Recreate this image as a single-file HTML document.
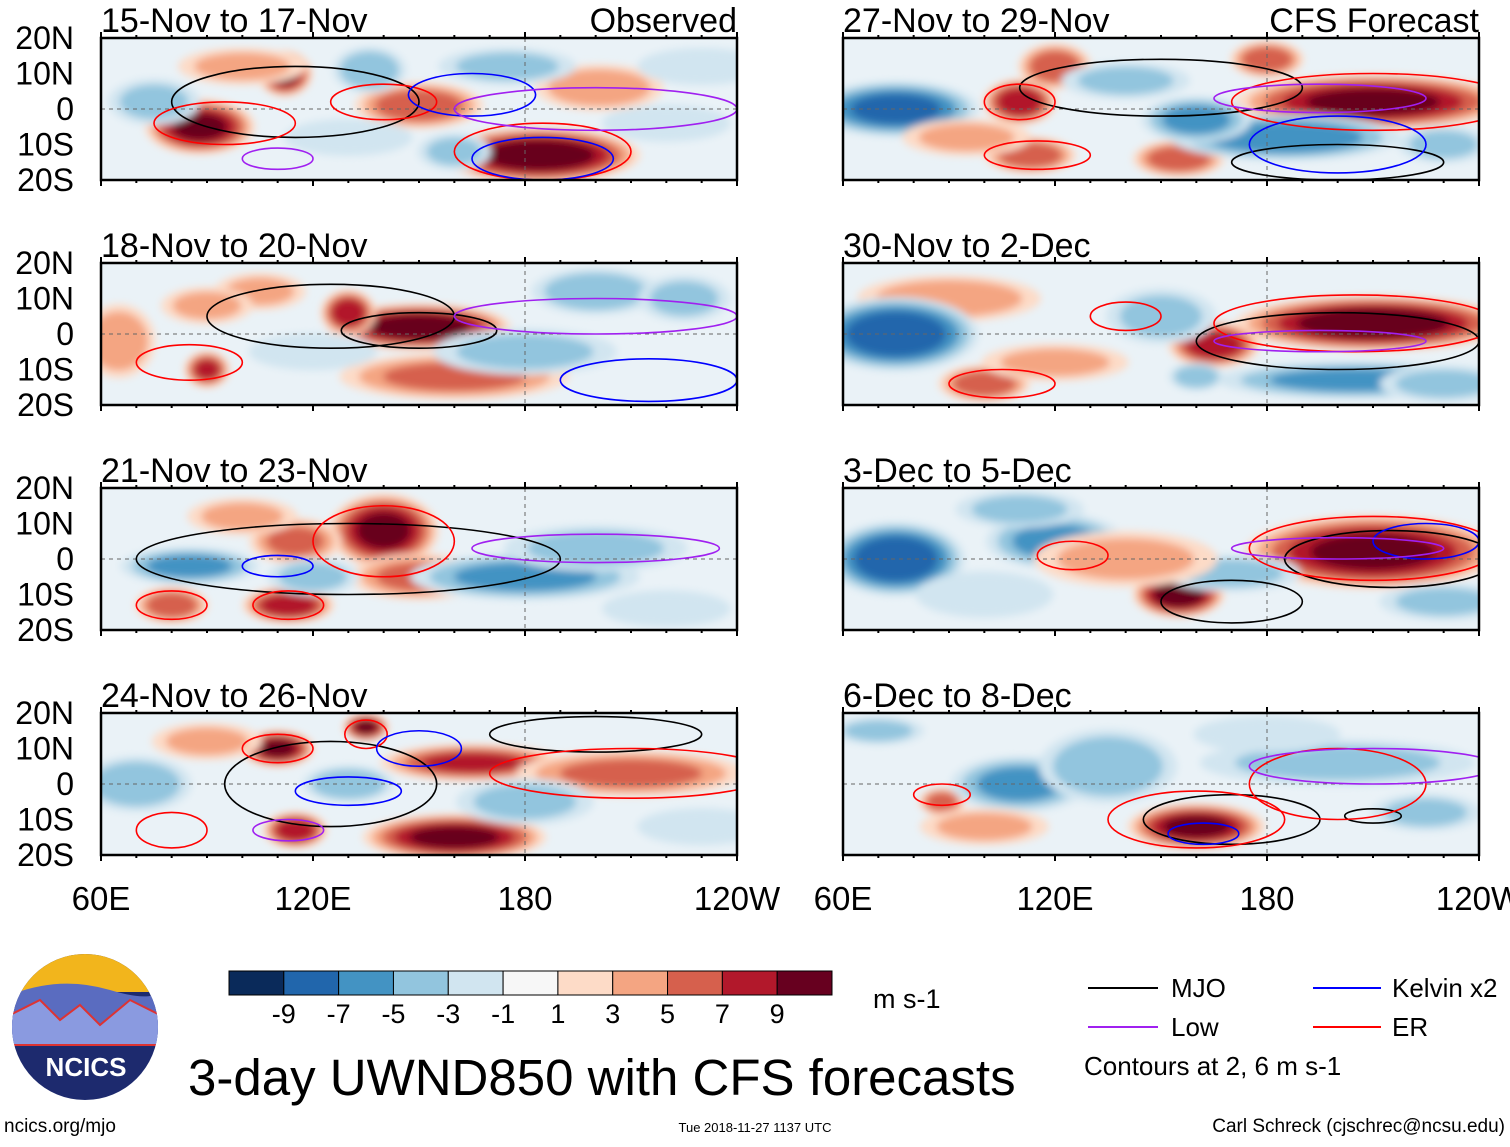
<!DOCTYPE html>
<html><head><meta charset="utf-8"><style>
body{margin:0;background:#fff;font-family:"Liberation Sans",sans-serif}
</style></head><body>
<svg id="fig" width="1510" height="1142" viewBox="0 0 1510 1142" xmlns="http://www.w3.org/2000/svg" font-family="Liberation Sans, sans-serif">
<defs><filter id="bl" x="-50%" y="-50%" width="200%" height="200%"><feGaussianBlur stdDeviation="4"/></filter></defs>
<g id="panels"></g>
<g>
  <g>
    <clipPath id="lc"><circle cx="85" cy="1027" r="73"/></clipPath>
    <g clip-path="url(#lc)">
      <rect x="10" y="952" width="150" height="150" fill="#1d2a6e"/>
      <rect x="10" y="952" width="150" height="40" fill="#f2b51c"/>
      <path d="M10 995 Q60 975 110 990 T160 985 L160 1040 L10 1040Z" fill="#5a6cc0"/>
      <path d="M10 1015 L40 1000 L60 1020 L80 1005 L100 1025 L130 1000 L160 1015 L160 1045 L10 1045Z" fill="#8a9ae0" stroke="#d33" stroke-width="2"/>
    </g>
    <text x="86" y="1076" font-size="26" font-weight="bold" fill="#fff" text-anchor="middle">NCICS</text>
  </g>
  <g id="cbar"></g>
  <text x="873" y="1008" font-size="27">m s-1</text>
  <text x="188" y="1095" font-size="51">3-day UWND850 with CFS forecasts</text>
  <g font-size="26">
    <line x1="1088" y1="988" x2="1158" y2="988" stroke="#000" stroke-width="2"/><text x="1171" y="997">MJO</text>
    <line x1="1313" y1="988" x2="1381" y2="988" stroke="#00f" stroke-width="2"/><text x="1392" y="997">Kelvin x2</text>
    <line x1="1088" y1="1027" x2="1158" y2="1027" stroke="#a020f0" stroke-width="2"/><text x="1171" y="1036">Low</text>
    <line x1="1313" y1="1027" x2="1381" y2="1027" stroke="#f00" stroke-width="2"/><text x="1392" y="1036">ER</text>
    <text x="1084" y="1075">Contours at 2, 6 m s-1</text>
  </g>
  <text x="4" y="1132" font-size="19">ncics.org/mjo</text>
  <text x="755" y="1132" font-size="13" text-anchor="middle">Tue 2018-11-27 1137 UTC</text>
  <text x="1505" y="1132" font-size="19" text-anchor="end">Carl Schreck (cjschrec@ncsu.edu)</text>
</g>
</svg>
<script>
const panelTitles=["15-Nov to 17-Nov","18-Nov to 20-Nov","21-Nov to 23-Nov","24-Nov to 26-Nov","27-Nov to 29-Nov","30-Nov to 2-Dec","3-Dec to 5-Dec","6-Dec to 8-Dec"];
const latTicks=[20,10,0,-10,-20];
const latLabels=["20N","10N","0","10S","20S"];
const lonTicks=[60,120,180,240];
const lonLabels=["60E","120E","180","120W"];
const cbarLevels=[-9,-7,-5,-3,-1,1,3,5,7,9];
const cbarColors=["#0a2a5a","#2166ac","#4393c3","#92c5de","#d1e5f0","#f7f7f7","#fddbc7","#f4a582","#d6604d","#b2182b","#67001f"];
// blobs per panel: lon, lat, value (m/s), width(deg), height(deg)
const blobLon=[[88,112,150,184,201,175,136,75,220,160,100,130,230],[150,130,90,160,65,200,105,180,225,120,90],[140,115,80,113,150,85,180,200,120,220,100],[110,135,160,165,210,115,70,130,180,90,230],[210,110,120,180,113,155,75,185,160,230,95,140],[210,165,100,90,75,205,150,160,120,230],[210,155,75,120,170,100,140,230,110],[160,88,110,135,200,70,225,100,180]];
const blobLat=[[-5,10,1,-13,6,12,11,2,-4,-12,12,-8,12],[2,6,-10,-12,-2,12,12,-5,10,-5,8],[8,5,-13,-13,-5,-2,-5,3,-5,-14,12],[10,16,-15,6,3,-13,0,0,-5,12,-12],[2,2,12,14,-13,-14,0,-8,-3,-10,-8,8],[3,-3,-14,10,0,-13,5,-12,-8,-14],[2,-10,0,5,-4,-10,0,-12,14],[-12,-5,0,5,6,15,-8,-12,14]];
const blobVal=[[9,9,6,10,4,-3,-4,-3,-2,-3,3,-2,-2],[10,8,7,5,4,-4,3,-3,-3,-2,3],[9,5,6,8,5,-5,-5,-3,-3,-2,3],[9,9,9,7,5,8,-4,-4,-3,3,-2],[9,8,6,6,6,6,-7,-6,-5,-3,3,-3],[10,8,6,4,-8,-5,-3,-4,3,-3],[9,10,-8,-5,-3,-2,3,-3,-3],[9,6,-5,-4,-3,-3,-3,3,-2]];
const blobW=[[12,6,14,22,14,15,8,10,14,8,14,14,14],[20,6,5,25,8,14,10,20,10,14,10],[12,10,8,10,15,15,25,20,10,14,12],[8,5,20,20,25,7,12,10,15,12,14],[30,8,8,8,10,10,18,25,12,10,14,14],[30,10,10,20,18,30,12,6,16,14],[28,10,15,15,15,15,20,14,14],[15,5,15,15,30,10,12,14,16]];
const blobH=[[6,5,5,6,5,4,5,5,4,4,4,4,4],[5,5,4,5,8,5,4,5,5,4,4],[8,5,4,4,5,4,5,5,4,4,4],[4,3,5,4,5,4,6,4,5,4,4],[6,5,5,4,4,4,6,5,5,4,4,4],[6,5,4,5,8,4,6,3,4,4],[8,5,8,6,4,5,6,4,4],[5,3,6,8,5,3,4,4,4]];
// contours per panel: lon, lat, halfwidth, halfheight, type
const cLon=[[115,95,185,140,185,165,200,110],[125,150,200,215,85],[130,140,80,113,200,110],[125,200,110,135,210,80,150,130,113],[150,200,210,115,110,200,195],[200,205,105,140,195],[215,170,210,125,225,200],[170,210,160,200,88,210,162]];
const cLat=[[2,-4,-12,2,-14,4,0,-14],[5,1,5,-13,-8],[0,5,-13,-13,3,-2],[0,14,10,14,3,-13,10,-2,-13],[6,-15,2,-13,2,-10,3],[-2,3,-14,5,-2],[0,-12,3,1,5,3],[-10,-9,-10,0,-3,5,-14]];
const cW=[[35,20,25,15,20,18,40,10],[35,22,40,25,15],[60,20,10,10,35,10],[30,30,10,6,40,10,12,15,10],[40,30,40,15,10,25,30],[40,40,15,10,30],[30,20,35,10,15,30],[25,8,25,25,8,35,10]];
const cH=[[10,6,8,5,6,6,6,3],[9,5,5,6,5],[10,10,4,4,4,3],[12,5,4,4,7,5,5,4,3],[8,5,8,4,5,8,4],[8,8,4,4,3],[8,6,9,4,5,3],[7,2,8,10,3,5,3]];
const cType=[["mjo","er","er","er","kel","kel","low","low"],["mjo","mjo","low","kel","er"],["mjo","er","er","er","low","kel"],["mjo","mjo","er","er","er","er","kel","kel","low"],["mjo","mjo","er","er","er","kel","low"],["mjo","er","er","er","low"],["mjo","mjo","er","er","kel","low"],["mjo","mjo","er","er","er","low","kel"]];
const typeColor={mjo:"#000",er:"#f00",kel:"#00f",low:"#a020f0"};

const NS="http://www.w3.org/2000/svg";
function mk(tag,attrs,parent){const e=document.createElementNS(NS,tag);for(const k in attrs)e.setAttribute(k,attrs[k]);parent.appendChild(e);return e;}
function colorFor(v){let i=0;while(i<cbarLevels.length&&v>cbarLevels[i])i++;return cbarColors[i];}
const PW=636,PH=142,GROW=1.3;
const lefts=[101,843],tops=[38,263,488,713];
const root=document.getElementById('panels');
for(let p=0;p<8;p++){
  const px=lefts[Math.floor(p/4)],py=tops[p%4];
  const xS=lon=>px+(lon-60)*PW/180;
  const yS=lat=>py+(20-lat)*PH/40;
  const g=mk('g',{},root);
  
  
  const cp=mk('clipPath',{id:'cp'+p},g);
  mk('rect',{x:px,y:py,width:PW,height:PH},cp);
  const inner=mk('g',{'clip-path':'url(#cp'+p+')'},g);
  mk('rect',{x:px,y:py,width:PW,height:PH,fill:'#eaf2f7'},inner);
  const bg=mk('g',{filter:'url(#bl)'},inner);
  for(let b=0;b<blobLon[p].length;b++){
    const v=blobVal[p][b],a=Math.abs(v),s=Math.sign(v);
    for(let t=1;t<=a;t+=2){
      const f=GROW*Math.sqrt(1-(t-1)/(a+1.5));
      const e=mk('ellipse',{cx:xS(blobLon[p][b]),cy:yS(blobLat[p][b]),rx:blobW[p][b]*PW/180*f,ry:blobH[p][b]*PH/40*f,fill:colorFor(s*(t+0.5))},bg);
      
      
    }
  }
  mk('line',{x1:px,y1:yS(0),x2:px+PW,y2:yS(0),stroke:'#666','stroke-dasharray':'4,4','stroke-width':1},inner);
  mk('line',{x1:xS(180),y1:py,x2:xS(180),y2:py+PH,stroke:'#666','stroke-dasharray':'4,4','stroke-width':1},inner);
  for(let c=0;c<cLon[p].length;c++){
    const e=mk('ellipse',{cx:xS(cLon[p][c]),cy:yS(cLat[p][c]),rx:cW[p][c]*PW/180,ry:cH[p][c]*PH/40,fill:'none',stroke:typeColor[cType[p][c]],'stroke-width':1.6},inner);
    
    
  }
  mk('rect',{x:px,y:py,width:PW,height:PH,fill:'none',stroke:'#000','stroke-width':2.5},g);
  for(let lon=60;lon<=240;lon+=10){const big=lon%60===0;
    mk('line',{x1:xS(lon),y1:py,x2:xS(lon),y2:py-(big?6:3),stroke:'#000','stroke-width':2},g);
    mk('line',{x1:xS(lon),y1:py+PH,x2:xS(lon),y2:py+PH+(big?6:3),stroke:'#000','stroke-width':2},g);}
  const t=mk('text',{x:px,y:py-6,'font-size':34},g);t.textContent=panelTitles[p];
  
  
  if(p%4===0){
    const t2=mk('text',{x:px+PW,y:py-6,'font-size':34,'text-anchor':'end'},g);t2.textContent=p===0?'Observed':'CFS Forecast';
    
    
  }
  if(p<4){
    latTicks.forEach((lat,i)=>{const l=mk('text',{x:px-27,y:yS(lat)+11,'font-size':32,'text-anchor':'end'},g);l.textContent=latLabels[i];
      
      });
  }
  if(p%4===3){
    lonTicks.forEach((lon,i)=>{const l=mk('text',{x:xS(lon),y:910,'font-size':33,'text-anchor':'middle'},g);l.textContent=lonLabels[i];
      
      });
  }
}
const cb=document.getElementById('cbar');
const cbx=229,cbw=603/11;
cbarColors.forEach((c,i)=>{const r=mk('rect',{x:cbx+i*cbw,y:971,width:cbw,height:24,fill:c,stroke:'#000','stroke-width':1},cb);
  
  });
cbarLevels.forEach((v,i)=>{const t=mk('text',{x:cbx+(i+1)*cbw,y:1023,'font-size':27,'text-anchor':'middle'},cb);t.textContent=v;
  
  });
</script>
</body></html>
